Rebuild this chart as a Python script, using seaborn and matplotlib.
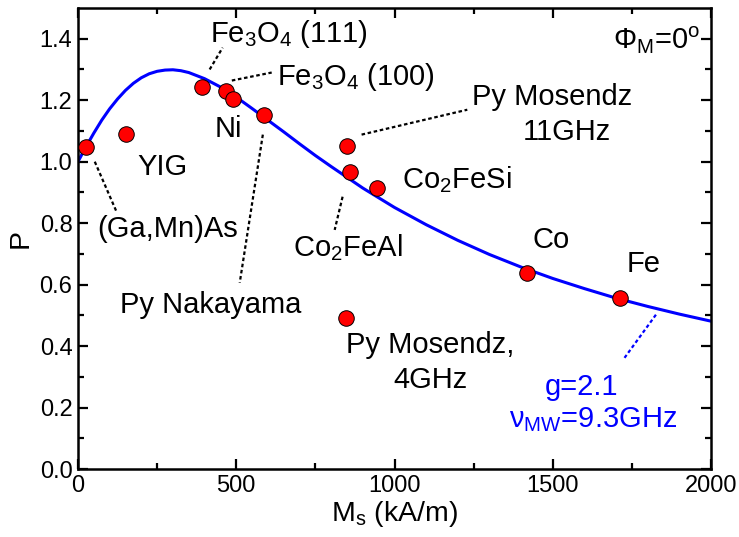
import matplotlib
matplotlib.use("Agg")
import matplotlib.pyplot as plt
import seaborn as sns
import pandas as pd

# ---- data ----
materials = ["(Ga,Mn)As", "YIG", "Fe3O4 (111)", "Fe3O4 (100)", "Ni", "Py Nakayama",
             "Py Mosendz 11GHz", "Co2FeAl", "Co2FeSi", "Co", "Fe", "Py Mosendz 4GHz"]
ms_values = [25, 152, 392, 468, 489, 589, 850, 860, 945, 1420, 1714, 847]
p_values = [1.048, 1.090, 1.244, 1.229, 1.204, 1.153, 1.052, 0.968, 0.914, 0.637, 0.556, 0.491]

# theory curve (g=2.1, nu_MW=9.3GHz)
curve_ms = [0, 25, 50, 75, 100, 125, 150, 175, 200, 225, 250, 275, 300, 325, 350, 400, 450,
            500, 550, 600, 650, 700, 750, 800, 900, 1000, 1100, 1200, 1300, 1400, 1500,
            1600, 1700, 1800, 1900, 2000]
curve_p = [1.000, 1.048, 1.093, 1.135, 1.172, 1.204, 1.232, 1.255, 1.273, 1.286, 1.294, 1.298,
           1.299, 1.296, 1.290, 1.270, 1.243, 1.210, 1.173, 1.135, 1.097, 1.058, 1.020, 0.984,
           0.914, 0.851, 0.795, 0.744, 0.698, 0.657, 0.620, 0.587, 0.556, 0.529, 0.504, 0.481]

x_ticks = [0, 500, 1000, 1500, 2000]
y_ticks = [0.0, 0.2, 0.4, 0.6, 0.8, 1.0, 1.2, 1.4]

sns.set_theme(style="ticks")
plt.rcParams["font.family"] = ["Liberation Sans", "DejaVu Sans"]
plt.rcParams["mathtext.default"] = "regular"

fig = plt.figure(figsize=(7.39, 5.37), dpi=100)
ax = fig.add_axes([78 / 739, 68 / 537, 633 / 739, 461 / 537])

curve_df = pd.DataFrame({"Ms": curve_ms, "P": curve_p})
pts_df = pd.DataFrame({"Ms": ms_values, "P": p_values, "mat": materials})

sns.lineplot(data=curve_df, x="Ms", y="P", ax=ax, color="#0000ff", linewidth=2.2,
             sort=False, zorder=2)
sns.scatterplot(data=pts_df, x="Ms", y="P", ax=ax, color="#ff0000", edgecolor="black",
                linewidth=0.7, s=125, zorder=3, legend=False)

ax.set_xlim(0, 2000)
ax.set_ylim(0, 1.5)
ax.set_xticks(x_ticks)
ax.set_xticklabels([str(v) for v in x_ticks])
ax.set_yticks(y_ticks)
ax.set_yticklabels([f"{v:.1f}" for v in y_ticks])
ax.set_xticks([250, 750, 1250, 1750], minor=True)
ax.set_yticks([0.1, 0.3, 0.5, 0.7, 0.9, 1.1, 1.3], minor=True)
ax.tick_params(which="both", direction="in", top=True, right=True, width=1.6,
               labelsize=17, color="black", labelcolor="black")
ax.tick_params(which="major", length=7, pad=4)
ax.tick_params(which="minor", length=4)
for sp in ax.spines.values():
    sp.set_linewidth(1.8)
    sp.set_color("black")

ax.set_xlabel("M$_s$ (kA/m)", fontsize=20.5, labelpad=2, color="black")
ax.set_ylabel("P", fontsize=20.5, labelpad=4, color="black")

fs = 21
tk = dict(fontsize=fs, color="black", va="baseline")
ax.text(416, 1.388, "Fe$_3$O$_4$ (111)", ha="left", **tk)
ax.text(628, 1.251, "Fe$_3$O$_4$ (100)", ha="left", **tk)
ax.text(432, 1.081, "Ni", ha="left", **tk)
ax.text(189, 0.958, "YIG", ha="left", **tk)
ax.text(60, 0.756, "(Ga,Mn)As", ha="left", **tk)
ax.text(132, 0.508, "Py Nakayama", ha="left", **tk)
ax.text(1244, 1.186, "Py Mosendz", ha="left", **tk)
ax.text(1545, 1.069, "11GHz", ha="center", **tk)
ax.text(1025, 0.915, "Co$_2$FeSi", ha="left", **tk)
ax.text(678, 0.691, "Co$_2$FeAl", ha="left", **tk)
ax.text(1435, 0.720, "Co", ha="left", **tk)
ax.text(1732, 0.642, "Fe", ha="left", **tk)
ax.text(1113, 0.378, "Py Mosendz,", ha="center", **tk)
ax.text(1113, 0.264, "4GHz", ha="center", **tk)
ax.text(1590, 0.241, "g=2.1", ha="center", fontsize=fs, color="#0000ff", va="baseline")
ax.text(1628, 0.137, "ν$_{MW}$=9.3GHz", ha="center", fontsize=fs, color="#0000ff", va="baseline")
ax.text(1965, 1.365, "Φ$_M$=0$^o$", ha="right", **tk)

# dotted leader lines
leaders = [((53, 1.000), (123, 0.834)),
           ((416, 1.300), (457, 1.371)),
           ((486, 1.264), (612, 1.290)),
           ((584, 1.088), (511, 0.606)),
           ((896, 1.088), (1230, 1.169)),
           ((836, 0.886), (811, 0.778))]
for (x0, y0), (x1, y1) in leaders:
    ax.plot([x0, x1], [y0, y1], color="black", linestyle=(0, (1.6, 1.2)), linewidth=1.6, zorder=1)
ax.plot([1826, 1722], [0.502, 0.355], color="#0000ff", linestyle=(0, (1.6, 1.2)),
        linewidth=1.6, zorder=1)

fig.savefig("out.png", dpi=100)
